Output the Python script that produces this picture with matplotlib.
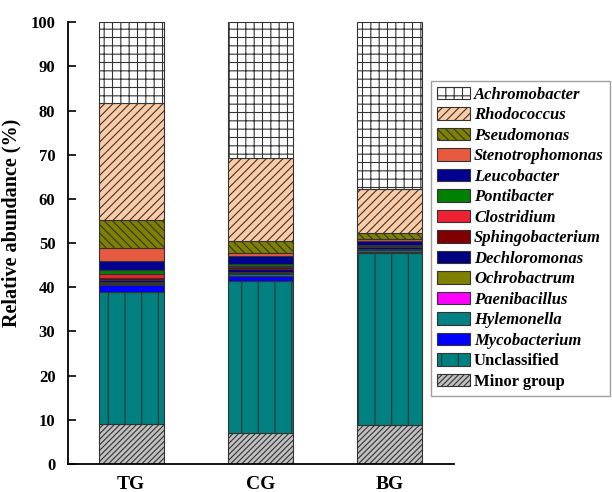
import matplotlib
matplotlib.use('Agg')
import matplotlib.pyplot as plt
from matplotlib.patches import Patch

plt.rcParams['font.family'] = ['Liberation Serif', 'DejaVu Serif']
plt.rcParams['hatch.linewidth'] = 0.8

# data (bottom to top of each bar)
groupes = ['TG', 'CG', 'BG']
taxons = ['Minor group', 'Unclassified', 'Mycobacterium', 'Hylemonella', 'Paenibacillus',
          'Ochrobactrum', 'Dechloromonas', 'Sphingobacterium', 'Clostridium', 'Pontibacter',
          'Leucobacter', 'Stenotrophomonas', 'Pseudomonas', 'Rhodococcus', 'Achromobacter']
valeurs = {
    'Minor group':      [9.0, 7.0, 8.8],
    'Unclassified':     [30.0, 34.5, 39.0],
    'Mycobacterium':    [1.4, 1.0, 0.2],
    'Hylemonella':      [0.4, 0.4, 0.4],
    'Paenibacillus':    [0.1, 0.3, 0.05],
    'Ochrobactrum':     [0.2, 0.2, 0.3],
    'Dechloromonas':    [0.6, 0.7, 0.3],
    'Sphingobacterium': [0.5, 0.4, 0.2],
    'Clostridium':      [0.8, 0.3, 0.1],
    'Pontibacter':      [0.8, 0.5, 0.1],
    'Leucobacter':      [2.1, 1.7, 1.1],
    'Stenotrophomonas': [3.0, 0.8, 0.3],
    'Pseudomonas':      [6.4, 2.6, 1.45],
    'Rhodococcus':      [26.5, 18.8, 9.9],
    'Achromobacter':    [18.2, 30.8, 37.8],
}

couleurs = {
    'Minor group': '#C0C0C0', 'Unclassified': '#008080', 'Mycobacterium': '#0000FF',
    'Hylemonella': '#008080', 'Paenibacillus': '#FF00FF', 'Ochrobactrum': '#808000',
    'Dechloromonas': '#000080', 'Sphingobacterium': '#800000', 'Clostridium': '#EE2233',
    'Pontibacter': '#008000', 'Leucobacter': '#000090', 'Stenotrophomonas': '#E85A40',
    'Pseudomonas': '#808000', 'Rhodococcus': '#FFCBA4', 'Achromobacter': '#FFFFFF',
}
motifs = {'Minor group': '//////', 'Unclassified': '|', 'Pseudomonas': '\\\\\\\\',
          'Rhodococcus': '////', 'Achromobacter': '++'}
italique = [t for t in taxons if t not in ('Minor group', 'Unclassified')]

fig = plt.figure(figsize=(6.12, 4.92), dpi=100)
ax = fig.add_axes([0.111, 0.057, 0.631, 0.898])

x = range(len(groupes))
bas = [0, 0, 0]
for t in taxons:
    ax.bar(x, valeurs[t], 0.5, bottom=bas, color=couleurs[t], edgecolor='#333333',
           linewidth=0.8, hatch=motifs.get(t, None))
    bas = [b + v for b, v in zip(bas, valeurs[t])]

ax.set_xlim(-0.49, 2.5)
ax.set_ylim(0, 100)
ax.set_yticks(range(0, 101, 10))
ax.set_xticks(list(x))
ax.set_xticklabels(groupes, fontsize=14, fontweight='bold')
for lab in ax.get_yticklabels():
    lab.set_fontweight('bold')
    lab.set_fontsize(12)
ax.tick_params(axis='y', direction='in', length=6, width=1.2, pad=9)
ax.tick_params(axis='x', length=0, pad=9)
ax.spines['top'].set_visible(False)
ax.spines['right'].set_visible(False)
ax.spines['left'].set_linewidth(1.3)
ax.spines['bottom'].set_linewidth(1.3)
ax.set_ylabel('Relative abundance (%)', fontsize=14.5, fontweight='bold')
ax.yaxis.set_label_coords(-0.12, 0.545)

# legende
poignees = []
for t in reversed(taxons):
    poignees.append(Patch(facecolor=couleurs[t], edgecolor='#333333', linewidth=0.8,
                          hatch=motifs.get(t, None), label=t))
leg = fig.legend(handles=poignees, loc='upper left', bbox_to_anchor=(0.705, 0.836),
                 fancybox=False, edgecolor='#888888', handlelength=1.95, handleheight=0.8,
                 labelspacing=0.26, handletextpad=0.25, borderpad=0.35, borderaxespad=0,
                 prop={'size': 12, 'weight': 'bold'})
for txt in leg.get_texts():
    if txt.get_text() in italique:
        txt.set_fontstyle('italic')

fig.savefig('out.png', dpi=100)
